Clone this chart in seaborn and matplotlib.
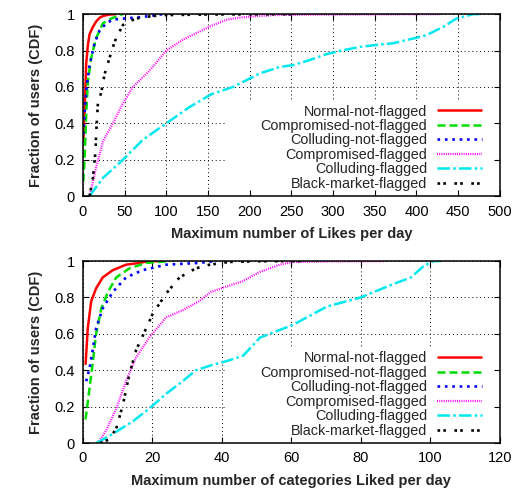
import matplotlib
matplotlib.use("Agg")
import numpy as np
import seaborn as sns
from matplotlib import pyplot as plt
from matplotlib.patches import Rectangle
from matplotlib.ticker import FuncFormatter, MultipleLocator

# ---- data ----
names = [
    "Normal-not-flagged",
    "Compromised-not-flagged",
    "Colluding-not-flagged",
    "Compromised-flagged",
    "Colluding-flagged",
    "Black-market-flagged",
]

# top panel: max Likes per day
likes_normal_x = [0.5, 2, 4, 6, 8, 12, 16, 20, 24, 32, 40]
likes_normal_y = [0.3, 0.45, 0.73, 0.83, 0.89, 0.93, 0.96, 0.98, 0.99, 0.998, 1.0]
likes_compnf_x = [0.5, 2, 4, 6, 10, 16, 24, 36, 48]
likes_compnf_y = [0.08, 0.2, 0.45, 0.63, 0.76, 0.87, 0.95, 0.98, 1.0]
likes_collnf_x = [0.5, 2, 4, 8, 14, 20, 28, 36, 52, 72, 96]
likes_collnf_y = [0.34, 0.45, 0.58, 0.72, 0.84, 0.91, 0.95, 0.97, 0.977, 0.985, 1.0]
likes_compf_x = [8, 12, 16, 20, 24, 30, 36, 48, 60, 80, 100, 120, 154, 172.8, 190, 210,
                 230, 260, 300, 350, 430]
likes_compf_y = [0, 0.08, 0.16, 0.23, 0.3, 0.35, 0.4, 0.51, 0.6, 0.69, 0.8, 0.86, 0.936,
                 0.97, 0.982, 0.99, 0.995, 0.997, 0.998, 0.999, 1.0]
likes_collf_x = [8, 24, 48, 72, 100, 128, 154, 180, 212, 236, 252, 270, 292, 310, 332, 350,
                 372, 390, 400, 412, 432, 448, 468, 480]
likes_collf_y = [0, 0.1, 0.2, 0.31, 0.4, 0.49, 0.56, 0.6, 0.674, 0.71, 0.72, 0.745, 0.78,
                 0.8, 0.82, 0.83, 0.84, 0.86, 0.87, 0.885, 0.93, 0.976, 1.0, 1.0]
likes_black_x = [8, 12, 15.2, 16, 18, 22, 26, 30, 36, 40, 48, 54, 68, 84, 100, 150, 200, 260]
likes_black_y = [0, 0.1, 0.25, 0.35, 0.51, 0.57, 0.67, 0.73, 0.82, 0.87, 0.94, 0.96, 0.98,
                 0.99, 0.995, 0.998, 0.999, 1.0]

# bottom panel: max categories Liked per day
cats_normal_x = [0.77, 1.4, 2.4, 3.8, 5.7, 8.6, 12.4, 16.3, 19, 22]
cats_normal_y = [0.43, 0.63, 0.78, 0.85, 0.91, 0.95, 0.98, 0.99, 1.0, 1.0]
cats_compnf_x = [0.77, 1.9, 2.9, 3.8, 5.3, 7.2, 9.6, 13.4, 18.2, 25]
cats_compnf_y = [0.13, 0.3, 0.45, 0.6, 0.74, 0.83, 0.91, 0.96, 0.99, 1.0]
cats_collnf_x = [0.96, 1.9, 2.9, 3.8, 5.7, 8.6, 12.4, 17.2, 23.9, 33.5, 38]
cats_collnf_y = [0.34, 0.41, 0.52, 0.63, 0.74, 0.83, 0.91, 0.95, 0.98, 0.99, 1.0]
cats_compf_x = [4.3, 6.7, 9.6, 12.4, 15.3, 19.1, 23.9, 28.7, 33.5, 36.8, 41.3, 46, 50.9,
                56.6, 60.4, 70, 87]
cats_compf_y = [0, 0.07, 0.19, 0.34, 0.47, 0.58, 0.69, 0.73, 0.78, 0.83, 0.86, 0.89, 0.94,
                0.98, 0.995, 0.998, 1.0]
cats_collf_x = [3.8, 7.7, 14.4, 19.1, 23.9, 28.7, 32.5, 37.3, 41.3, 46.1, 51, 60.5, 70.2,
                79.9, 89.5, 94.4, 98.2, 101, 103]
cats_collf_y = [0, 0.04, 0.12, 0.19, 0.27, 0.34, 0.4, 0.43, 0.45, 0.48, 0.58, 0.65, 0.75,
                0.8, 0.875, 0.91, 0.975, 1.0, 1.0]
cats_black_x = [5, 7.5, 9.6, 11.5, 13.4, 15.3, 18.2, 20.1, 23.9, 27.8, 32.5, 36.4, 42, 50, 65]
cats_black_y = [0, 0.02, 0.08, 0.21, 0.38, 0.51, 0.63, 0.71, 0.82, 0.91, 0.96, 0.98, 0.995,
                0.999, 1.0]

# gnuplot-ish styles
colors = ["#ff0000", "#00dd00", "#0000ff", "#ff00ff", "#00e8f0", "#000000"]
styles = ["-", (0, (3.2, 1.6)), (0, (1, 1.8)), (0, (0.45, 0.55)), (0, (5, 1.3, 1, 1.3)),
          (0, (1, 1.2, 1, 3.2))]
widths = [1.8, 1.8, 1.9, 1.6, 1.8, 1.9]

sns.set_style("ticks")
plt.rcParams["font.family"] = ["Liberation Sans", "DejaVu Sans"]
plt.rcParams["font.size"] = 10


def draw_panel(ax, series, xmax, xstep, xlabel, blank_x0):
    for (xs, ys), name, c, ls, lw in zip(series, names, colors, styles, widths):
        sns.lineplot(x=xs, y=ys, ax=ax, color=c, linestyle=ls, lw=lw, label=name,
                     sort=False, estimator=None, solid_capstyle="butt",
                     dash_capstyle="butt")
    ax.set_xlim(0, xmax)
    ax.set_ylim(0, 1)
    ax.xaxis.set_major_locator(MultipleLocator(xstep))
    ax.yaxis.set_major_locator(MultipleLocator(0.2))
    ax.yaxis.set_major_formatter(FuncFormatter(lambda v, p: f"{v:g}"))
    ax.tick_params(direction="in", length=4.5, width=0.8, top=True, right=True,
                   labelsize=10.5, pad=6, colors="black")
    ax.set_axisbelow(True)
    ax.grid(True, color="black", linestyle=(0, (1, 3)), linewidth=0.7)
    for s in ax.spines.values():
        s.set_linewidth(1.1)
        s.set_color("black")
    # gnuplot key keeps the grid out of its area
    ax.add_patch(Rectangle((blank_x0, 0.035), 0.983 - blank_x0, 0.53 - 0.035,
                           transform=ax.transAxes, facecolor="white",
                           edgecolor="none", zorder=1))
    ax.set_xlabel(xlabel, fontweight="bold", fontsize=10.5, labelpad=6)
    ax.set_ylabel("Fraction of users (CDF)", fontweight="bold", fontsize=10.5, labelpad=8)
    ax.legend(loc="lower right", bbox_to_anchor=(0.957, 0.03), markerfirst=False,
              frameon=False, fontsize=10.4, handlelength=3.1, handletextpad=0.7,
              labelspacing=0.03, borderaxespad=0, borderpad=0)


fig = plt.figure(figsize=(5.18, 4.88), dpi=100)
ax1 = fig.add_axes([0.160, 0.598, 0.805, 0.373])
ax2 = fig.add_axes([0.160, 0.092, 0.805, 0.373])

top = [(likes_normal_x, likes_normal_y), (likes_compnf_x, likes_compnf_y),
       (likes_collnf_x, likes_collnf_y), (likes_compf_x, likes_compf_y),
       (likes_collf_x, likes_collf_y), (likes_black_x, likes_black_y)]
bottom = [(cats_normal_x, cats_normal_y), (cats_compnf_x, cats_compnf_y),
          (cats_collnf_x, cats_collnf_y), (cats_compf_x, cats_compf_y),
          (cats_collf_x, cats_collf_y), (cats_black_x, cats_black_y)]

draw_panel(ax1, top, 500, 50, "Maximum number of Likes per day", 173 / 500)
draw_panel(ax2, bottom, 120, 20, "Maximum number of categories Liked per day", 41.3 / 120)

fig.savefig("out.png", dpi=100)
